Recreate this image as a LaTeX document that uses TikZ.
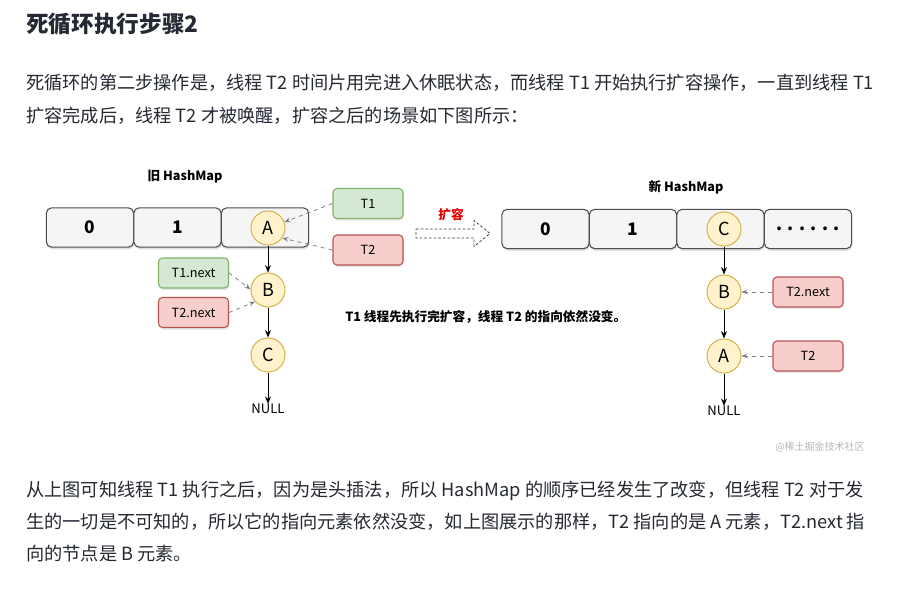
\documentclass[tikz,border=0pt]{standalone}
\usepackage{fontspec}
\setmainfont{Noto Sans CJK SC}
\usetikzlibrary{arrows.meta,shadows}
\definecolor{ink}{HTML}{252933}
\definecolor{cellfill}{HTML}{F5F5F5}
\definecolor{cellline}{HTML}{4D4D4D}
\definecolor{entryfill}{HTML}{FFF2CC}
\definecolor{entryline}{HTML}{D6B656}
\definecolor{greenfill}{HTML}{D5E8D4}
\definecolor{greenline}{HTML}{82B366}
\definecolor{redfill}{HTML}{F8CECC}
\definecolor{redline}{HTML}{B85450}
\definecolor{refline}{HTML}{808080}
\definecolor{expandred}{HTML}{E60000}
\definecolor{markgray}{HTML}{B8B8B8}

\begin{document}
\begin{tikzpicture}
  [x=0.75pt,y=-0.75pt,
   every node/.style={inner sep=0pt,text=ink},
   para/.style={anchor=west,font=\fontsize{13.65}{16}\selectfont},
   cell/.style={draw=cellline,fill=cellfill,rounded corners=4pt,line width=0.8pt,
     minimum width=65.5pt,minimum height=29.5pt,text=black,
     font=\fontsize{13}{15}\selectfont\bfseries,
     drop shadow={shadow xshift=0.6pt,shadow yshift=-1.6pt,opacity=0.25}},
   entry/.style={circle,draw=entryline,fill=entryfill,line width=0.8pt,
     minimum size=25.5pt,text=black,font=\fontsize{13.5}{15}\selectfont},
   thread/.style={rounded corners=3pt,line width=0.8pt,minimum width=52.5pt,
     minimum height=22.5pt,text=black,font=\fontsize{9.5}{11}\selectfont,
     drop shadow={shadow xshift=0.6pt,shadow yshift=-1.6pt,opacity=0.2}},
   tgreen/.style={thread,draw=greenline,fill=greenfill},
   tred/.style={thread,draw=redline,fill=redfill},
   title/.style={text=black,font=\fontsize{9.5}{11}\selectfont\bfseries},
   link/.style={-{Stealth[length=5.5pt,width=4.5pt]},line width=0.75pt,draw=black},
   ref/.style={-{Stealth[length=4.5pt,width=3.5pt]},dashed,line width=0.6pt,draw=refline}]
  \fill[white] (0,0) rectangle (906,591);
  \useasboundingbox (0,0) rectangle (906,591);

  % page text
  \node[anchor=west,font=\fontsize{17}{20}\selectfont\bfseries] (heading) at (26,24) {死循环执行步骤2};
  \node[para] (line1) at (26,83) {死循环的第二步操作是，线程 T2 时间片用完进入休眠状态，而线程 T1 开始执行扩容操作，一直到线程 T1};
  \node[para] (line2) at (26,116) {扩容完成后，线程 T2 才被唤醒，扩容之后的场景如下图所示：};
  \node[para] (line3) at (26,491) {从上图可知线程 T1 执行之后，因为是头插法，所以 HashMap 的顺序已经发生了改变，但线程 T2 对于发};
  \node[para] (line4) at (26,522) {生的一切是不可知的，所以它的指向元素依然没变，如上图展示的那样，T2 指向的是 A 元素，T2.next 指};
  \node[para] (line5) at (26,554) {向的节点是 B 元素。};

  % old HashMap
  \node[title] (oldtitle) at (185,177) {旧 HashMap};
  \node[cell] (old0) at (90,227.5) {0};
  \node[cell] (old1) at (177.5,227.5) {1};
  \node[cell] (old2) at (265,227.5) {};
  \node[entry] (olda) at (268,228) {A};
  \node[entry] (oldb) at (268,290) {B};
  \node[entry] (oldc) at (268,355) {C};
  \node[title,font=\fontsize{9.8}{11}\selectfont] (oldnull) at (268,409) {NULL};
  \node[tgreen] (t1old) at (368,203.5) {T1};
  \node[tred] (t2old) at (368,250) {T2};
  \node[tgreen] (t1nextold) at (193.5,273) {T1.next};
  \node[tred] (t2nextold) at (193.5,312.5) {T2.next};

  % resize arrow
  \node[text=expandred,font=\fontsize{9.5}{11}\selectfont\bfseries] (expand) at (451,215) {扩容};
  \draw[black!75,line width=0.6pt,dash pattern=on 2pt off 1.5pt]
    (416,229) -- (474,229) -- (474,220.5) -- (490,233.5) -- (474,246.5) -- (474,238) -- (416,238) -- cycle;
  \node[title,anchor=west] (note) at (345,317) {T1 线程先执行完扩容，线程 T2 的指向依然没变。};

  % new HashMap
  \node[title] (newtitle) at (686,187) {新 HashMap};
  \node[cell] (new0) at (545.5,229) {0};
  \node[cell] (new1) at (633,229) {1};
  \node[cell] (new2) at (720.5,229) {};
  \node[cell] (new3) at (808,229) {\raisebox{-3pt}{. . . . . .}};
  \node[entry] (newc) at (724,229) {C};
  \node[entry] (newb) at (724,292) {B};
  \node[entry] (newa) at (724,356) {A};
  \node[title,font=\fontsize{9.8}{11}\selectfont] (newnull) at (724,411) {NULL};
  \node[tred] (t2nextnew) at (808,292) {T2.next};
  \node[tred] (t2new) at (808,356) {T2};
  \node[anchor=east,text=markgray,font=\fontsize{7.5}{9}\selectfont] (mark) at (865,447) {@稀土掘金技术社区};

  \foreach \from/\to in {olda/oldb,oldb/oldc,oldc/oldnull,newc/newb,newb/newa,newa/newnull}
    \draw[link] (\from) -- (\to);

  \draw[ref] (t1old.west) -- (olda.20);
  \draw[ref] (t2old.west) -- (olda.-35);
  \draw[ref] (t1nextold.east) -- (oldb.178);
  \draw[ref] (t2nextold.east) -- (oldb.222);
  \draw[ref] (t2nextnew.west) -- (newb.east);
  \draw[ref] (t2new.west) -- (newa.east);
\end{tikzpicture}
\end{document}
